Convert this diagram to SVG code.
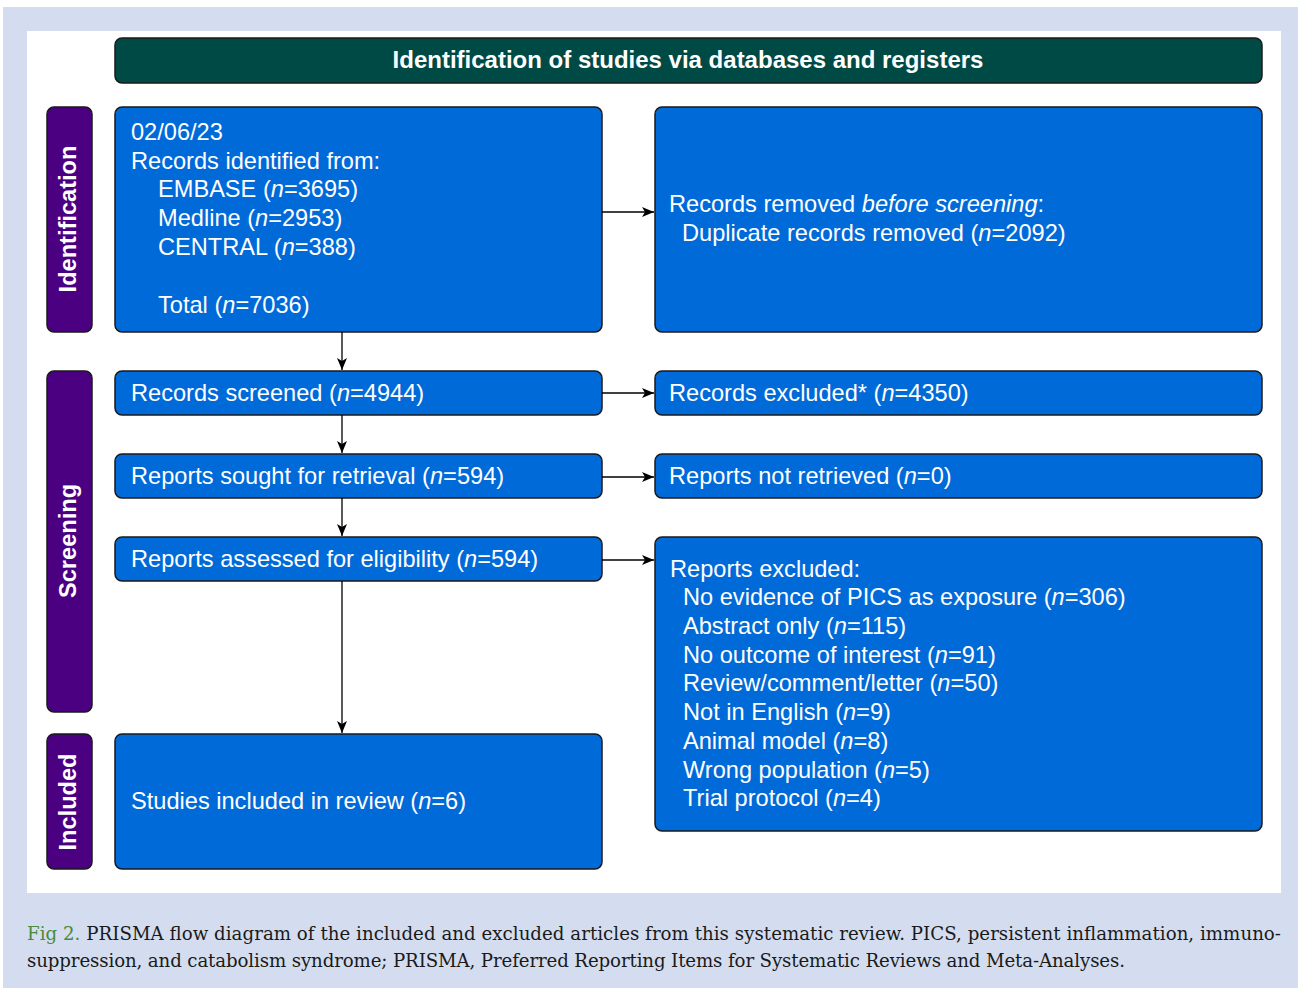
<svg xmlns="http://www.w3.org/2000/svg" width="1298" height="988" viewBox="0 0 1298 988">
<defs>
<style>
.box{fill:#006ad9;stroke:#1a1a1a;stroke-width:1.5}
.lab{fill:#4b0082;stroke:#1a1a1a;stroke-width:1.5}
.t{font-family:"Liberation Sans",Arial,sans-serif;font-size:23.6px;fill:#ffffff}
.lt{font-family:"Liberation Sans",Arial,sans-serif;font-size:23.6px;font-weight:bold;fill:#ffffff}
.ht{font-family:"Liberation Sans",Arial,sans-serif;font-size:24px;font-weight:bold;fill:#ffffff}
.cap{font-family:"DejaVu Serif","Liberation Serif",serif;font-size:18.2px;fill:#1a1a1a}
.conn{stroke:#000;stroke-width:1.3;fill:none;marker-end:url(#ah)}
</style>
<marker id="ah" viewBox="0 0 12 10" refX="12" refY="5" markerWidth="12" markerHeight="10" markerUnits="userSpaceOnUse" orient="auto">
<path d="M0,0 L12,5 L0,10 L3,5 Z" fill="#000"/>
</marker>
</defs>
<rect x="0" y="0" width="1298" height="988" fill="#ffffff"/>
<rect x="3" y="7" width="1295" height="981" fill="#d4ddef"/>
<rect x="27" y="31" width="1254" height="862" fill="#ffffff"/>

<g id="header">
<rect x="115" y="38" width="1147" height="45" rx="7" fill="#004a46" stroke="#1a1a1a" stroke-width="1.5"/>
<text class="ht" x="688" y="68" text-anchor="middle">Identification of studies via databases and registers</text>
</g>

<g id="label-identification">
<rect class="lab" x="47" y="107" width="45" height="225" rx="7"/>
<text class="lt" transform="translate(76,219) rotate(-90)" text-anchor="middle">Identification</text>
</g>
<g id="label-screening">
<rect class="lab" x="47" y="371" width="45" height="341" rx="7"/>
<text class="lt" transform="translate(76,541) rotate(-90)" text-anchor="middle">Screening</text>
</g>
<g id="label-included">
<rect class="lab" x="47" y="734" width="45" height="135" rx="7"/>
<text class="lt" transform="translate(76,802) rotate(-90)" text-anchor="middle">Included</text>
</g>

<g id="records-identified">
<rect class="box" x="115" y="107" width="487" height="225" rx="7"/>
<text class="t" x="131" y="140">02/06/23</text>
<text class="t" x="131" y="169">Records identified from:</text>
<text class="t" x="158" y="197">EMBASE (<tspan font-style="italic">n</tspan>=3695)</text>
<text class="t" x="158" y="226">Medline (<tspan font-style="italic">n</tspan>=2953)</text>
<text class="t" x="158" y="255">CENTRAL (<tspan font-style="italic">n</tspan>=388)</text>
<text class="t" x="158" y="313">Total (<tspan font-style="italic">n</tspan>=7036)</text>
</g>

<g id="records-removed">
<rect class="box" x="655" y="107" width="607" height="225" rx="7"/>
<text class="t" x="669" y="212">Records removed <tspan font-style="italic">before screening</tspan>:</text>
<text class="t" x="682" y="241">Duplicate records removed (<tspan font-style="italic">n</tspan>=2092)</text>
</g>

<g id="records-screened">
<rect class="box" x="115" y="371" width="487" height="44" rx="7"/>
<text class="t" x="131" y="401">Records screened (<tspan font-style="italic">n</tspan>=4944)</text>
</g>
<g id="records-excluded">
<rect class="box" x="655" y="371" width="607" height="44" rx="7"/>
<text class="t" x="669" y="401">Records excluded* (<tspan font-style="italic">n</tspan>=4350)</text>
</g>

<g id="reports-sought">
<rect class="box" x="115" y="454" width="487" height="44" rx="7"/>
<text class="t" x="131" y="484">Reports sought for retrieval (<tspan font-style="italic">n</tspan>=594)</text>
</g>
<g id="reports-not-retrieved">
<rect class="box" x="655" y="454" width="607" height="44" rx="7"/>
<text class="t" x="669" y="484">Reports not retrieved (<tspan font-style="italic">n</tspan>=0)</text>
</g>

<g id="reports-assessed">
<rect class="box" x="115" y="537" width="487" height="44" rx="7"/>
<text class="t" x="131" y="567">Reports assessed for eligibility (<tspan font-style="italic">n</tspan>=594)</text>
</g>
<g id="reports-excluded">
<rect class="box" x="655" y="537" width="607" height="294" rx="7"/>
<text class="t" x="670" y="577">Reports excluded:</text>
<text class="t" x="683" y="605">No evidence of PICS as exposure (<tspan font-style="italic">n</tspan>=306)</text>
<text class="t" x="683" y="634">Abstract only (<tspan font-style="italic">n</tspan>=115)</text>
<text class="t" x="683" y="663">No outcome of interest (<tspan font-style="italic">n</tspan>=91)</text>
<text class="t" x="683" y="691">Review/comment/letter (<tspan font-style="italic">n</tspan>=50)</text>
<text class="t" x="683" y="720">Not in English (<tspan font-style="italic">n</tspan>=9)</text>
<text class="t" x="683" y="749">Animal model (<tspan font-style="italic">n</tspan>=8)</text>
<text class="t" x="683" y="778">Wrong population (<tspan font-style="italic">n</tspan>=5)</text>
<text class="t" x="683" y="806">Trial protocol (<tspan font-style="italic">n</tspan>=4)</text>
</g>

<g id="studies-included">
<rect class="box" x="115" y="734" width="487" height="135" rx="7"/>
<text class="t" x="131" y="809">Studies included in review (<tspan font-style="italic">n</tspan>=6)</text>
</g>

<g id="connectors">
<line class="conn" x1="602" y1="212" x2="654" y2="212"/>
<line class="conn" x1="342" y1="332" x2="342" y2="370"/>
<line class="conn" x1="602" y1="393" x2="654" y2="393"/>
<line class="conn" x1="342" y1="415" x2="342" y2="453"/>
<line class="conn" x1="602" y1="477" x2="654" y2="477"/>
<line class="conn" x1="342" y1="498" x2="342" y2="536"/>
<line class="conn" x1="602" y1="560" x2="654" y2="560"/>
<line class="conn" x1="342" y1="581" x2="342" y2="733"/>
</g>

<g id="caption">
<text class="cap" x="27" y="940" textLength="1254" lengthAdjust="spacing"><tspan fill="#4a8a3c">Fig 2.</tspan> PRISMA flow diagram of the included and excluded articles from this systematic review. PICS, persistent inflammation, immuno-</text>
<text class="cap" x="27" y="967" textLength="1098" lengthAdjust="spacing">suppression, and catabolism syndrome; PRISMA, Preferred Reporting Items for Systematic Reviews and Meta-Analyses.</text>
</g>
</svg>
